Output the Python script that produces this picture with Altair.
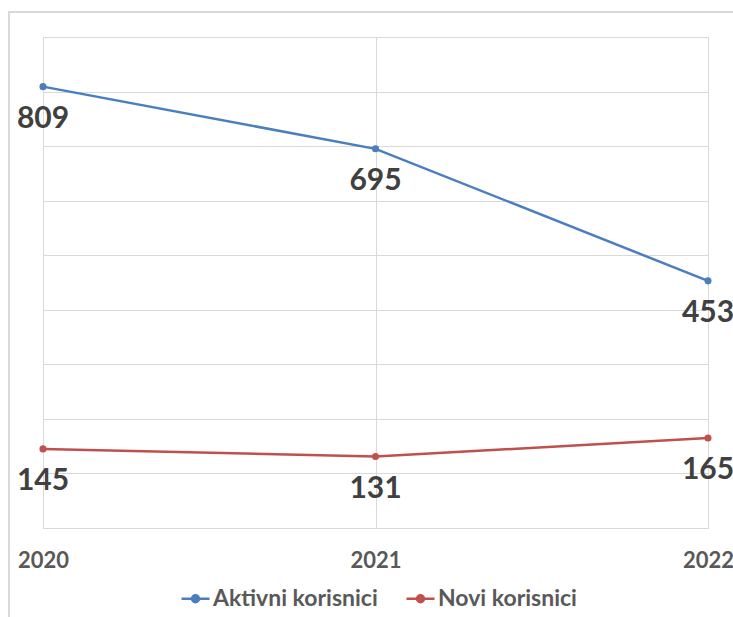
import altair as alt
import pandas as pd

years = ["2020", "2021", "2022"]
series_names = ["Aktivni korisnici", "Novi korisnici"]
aktivni = [809, 695, 453]
novi = [145, 131, 165]
colors = ["#4a7ebf", "#c0504d"]

rows = []
for name, vals in zip(series_names, [aktivni, novi]):
    for y, v in zip(years, vals):
        rows.append({"year": y, "value": v, "series": name})
df = pd.DataFrame(rows)

FONT = "Lato"

legend_path = "M-1,0H1M0.25,0A0.25,0.25,0,1,1,-0.25,0A0.25,0.25,0,1,1,0.25,0Z"

color = alt.Color(
    "series:N",
    scale=alt.Scale(domain=series_names, range=colors),
    legend=alt.Legend(
        title=None,
        orient="none",
        direction="horizontal",
        legendX=137,
        legendY=546,
        symbolType=legend_path,
        symbolSize=784,
        symbolStrokeWidth=2.5,
        labelFont=FONT,
        labelFontSize=23,
        labelFontWeight="bold",
        labelColor="#595959",
        labelOffset=2,
        labelLimit=400,
        columnPadding=23,
    ),
)

x = alt.X(
    "year:O",
    scale=alt.Scale(domain=years, padding=0),
    axis=alt.Axis(
        title=None,
        labelAngle=0,
        labelFont=FONT,
        labelFontSize=22,
        labelFontWeight="bold",
        labelColor="#595959",
        labelPadding=22,
        ticks=False,
        domain=False,
        grid=True,
        gridColor="#d9d9d9",
        gridWidth=1,
    ),
)
y = alt.Y(
    "value:Q",
    scale=alt.Scale(domain=[0, 900], nice=False),
    axis=alt.Axis(
        title=None,
        labels=False,
        ticks=False,
        domain=False,
        values=list(range(0, 901, 100)),
        grid=True,
        gridColor="#d9d9d9",
        gridWidth=1,
    ),
)

base = alt.Chart(df)

frame = base.mark_rect(fill=None, stroke="#d9d9d9", strokeWidth=1.5).encode(
    x=alt.value(-34), x2=alt.value(735), y=alt.value(-25), y2=alt.value(620)
)

line = base.mark_line(strokeWidth=2.5).encode(x=x, y=y, color=color)
pts = base.mark_point(filled=True, size=50, opacity=1).encode(x=x, y=y, color=color)
labels = base.mark_text(
    dy=32, font=FONT, fontSize=30, fontWeight="bold", color="#404040", baseline="middle"
).encode(x=x, y=y, text="value:Q")

chart = (
    alt.layer(frame, line, pts, labels)
    .properties(
        width=665,
        height=491,
        autosize=alt.AutoSizeParams(type="none"),
        padding={"left": 43, "top": 37, "right": 25, "bottom": 89},
    )
    .configure_view(stroke="#d9d9d9", strokeWidth=1)
    .configure(background="white")
)

chart.save("out.html", embed_options={"renderer": "svg", "actions": False})
